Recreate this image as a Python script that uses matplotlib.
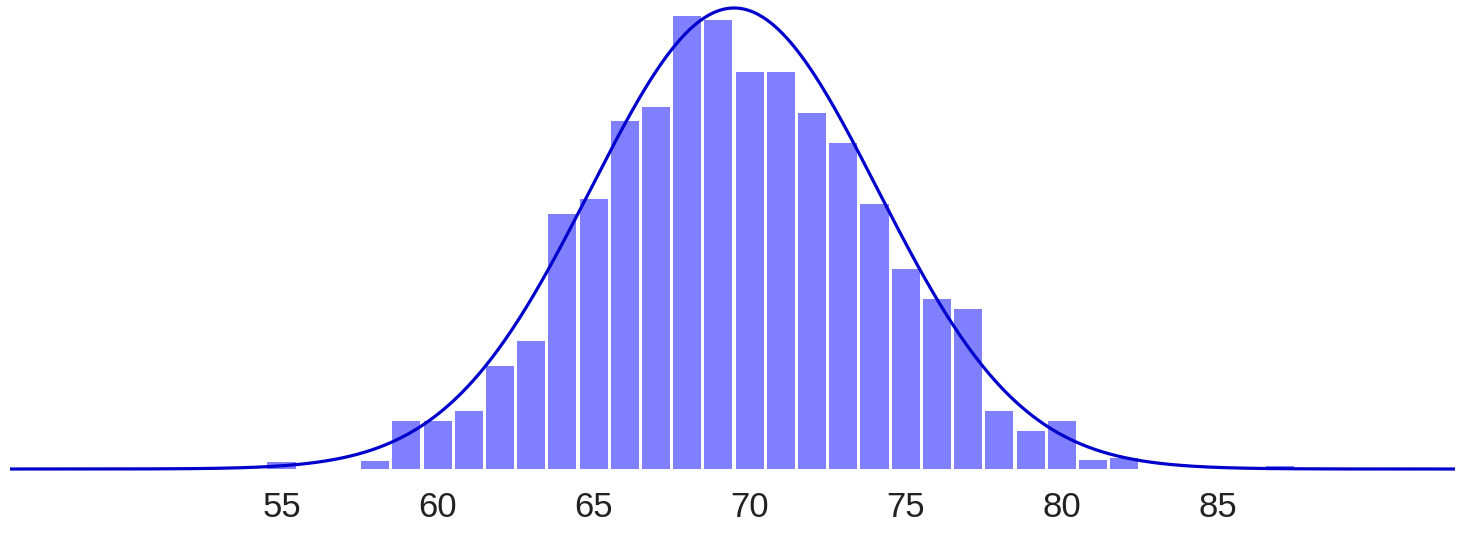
import numpy as np
import matplotlib
matplotlib.use("Agg")
import matplotlib.pyplot as plt

# Histogram data (bin centres, heights)
bins = [55, 58, 59, 60, 61, 62, 63, 64, 65, 66, 67, 68, 69, 70, 71,
        72, 73, 74, 75, 76, 77, 78, 79, 80, 81, 82, 87]
heights = [0.7, 0.8, 4.8, 4.8, 5.8, 10.3, 12.8, 25.5, 27.0, 34.8, 36.2, 45.3, 44.9, 39.7, 39.7,
           35.6, 32.6, 26.5, 20.0, 17.0, 16.0, 5.8, 3.8, 4.8, 0.9, 1.1, 0.3]
tick_values = [55, 60, 65, 70, 75, 80, 85]

# Fitted normal curve
mu = 69.5
sigma = 4.6
peak = 46.1

fig = plt.figure(figsize=(14.6, 5.38), dpi=100)
ax = fig.add_axes([10 / 1460, (538 - 469) / 538, 1445 / 1460, 465 / 538])

ax.bar(bins, heights, width=0.9, color="#8080ff", zorder=1)

xs = np.linspace(46.3, 92.6, 600)
ys = peak * np.exp(-0.5 * ((xs - mu) / sigma) ** 2)
ax.plot(xs, ys, color="#0000cc", linewidth=2.3, zorder=2,
        solid_capstyle="butt", clip_on=False)

ax.set_xlim(46.3, 92.6)
ax.set_ylim(0, 46.5)
ax.set_xticks(tick_values)
ax.set_xticklabels([str(v) for v in tick_values], fontsize=25,
                   family="Liberation Sans", color="#222222")
ax.tick_params(axis="x", length=0, pad=16)
ax.set_yticks([])
for s in ax.spines.values():
    s.set_visible(False)

fig.savefig("out.png", dpi=100)
